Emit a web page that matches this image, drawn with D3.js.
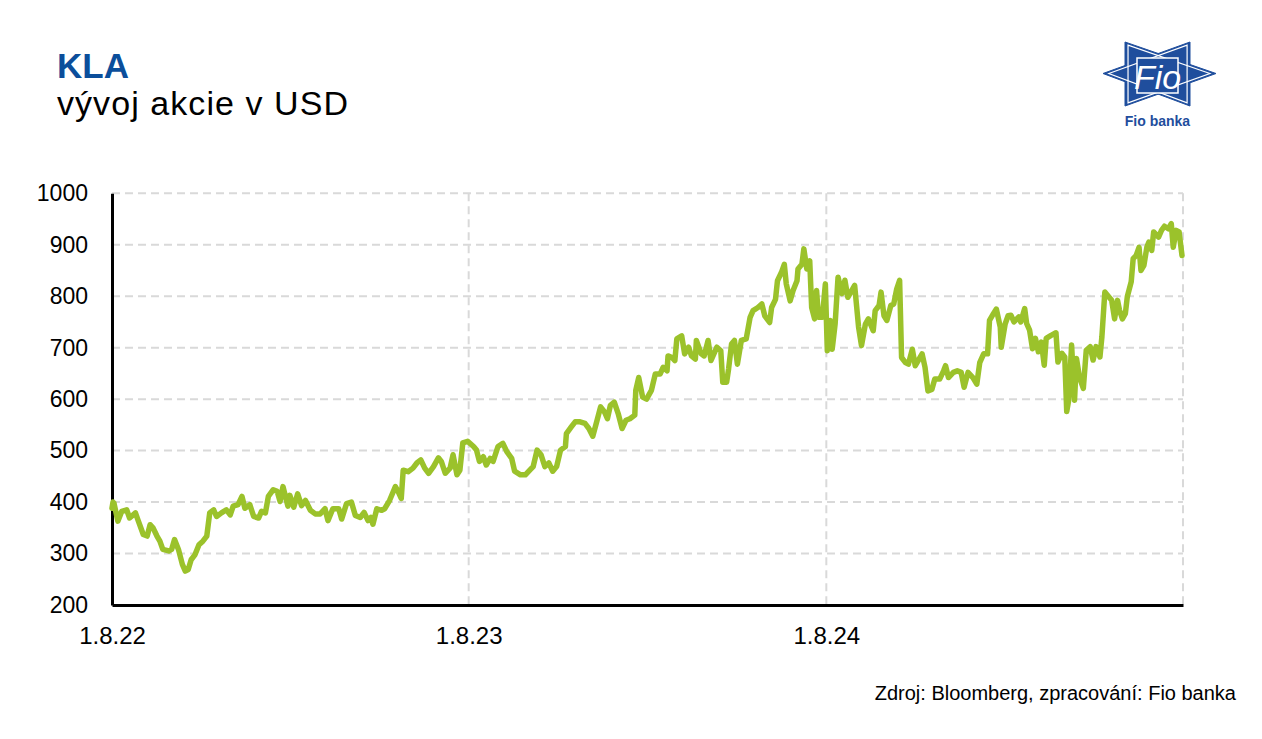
<!DOCTYPE html>
<html><head><meta charset="utf-8">
<script src="https://cdn.jsdelivr.net/npm/d3@7"></script>
<style>
body{margin:0;background:#fff}
svg{display:block}
text{font-family:"Liberation Sans",Arial,Helvetica,sans-serif}
</style>
</head><body>
<svg id="chart" width="1262" height="739"></svg>
<script>
// ---- data ----
const startDate = "2022-08-01";
const dayOffsets = [
0,1,2,6,10,15,18,24,27,32,36,39,42,46,49,52,58,61,64,68,72,75,78,81,85,89,93,97,100,104,107,112,117,121,124,129,133,136,141,145,150,153,157,160,165,169,172,175,180,
182,186,190,194,198,203,208,213,218,221,226,232,235,240,245,249,254,258,262,265,267,271,276,279,284,290,293,296,298,303,308,312,316,320,324,329,334,337,341,346,349,353,356,359,364,
370,373,376,380,383,387,390,395,400,404,409,412,418,423,428,431,435,439,443,447,451,455,459,464,465,470,474,479,484,488,492,496,500,504,507,510,514,518,522,526,530,535,536,539,543,547,
552,556,561,564,568,569,573,576,578,583,586,590,593,597,598,603,606,610,613,615,619,623,625,629,631,634,637,640,644,649,653,656,661,665,668,673,675,679,681,685,688,690,694,697,701,702,706,708,711,714,716,719,721,723,727,730,732,
735,737,740,743,747,750,753,757,760,764,767,771,774,779,781,785,787,790,793,797,800,803,806,808,812,815,819,822,825,829,832,835,839,842,847,851,853,856,861,865,869,872,876,881,885,888,892,896,898,902,905,909,910,914,917,
920,923,928,930,934,936,939,942,945,948,951,954,956,961,966,968,972,975,977,979,982,985,987,990,994,997,1001,1004,1007,1011,1013,1016,1020,1023,1026,1029,1031,1034,1037,1039,1043,1045,1048,1051,1053,1056,1059,1061,1064,1066,1071,1074,1077,1081,1084,1086,1089,1092,1095
];
const prices = [
388,400,398,363,382,385,369,379,363,337,334,356,350,334,324,308,305,308,327,308,279,266,269,288,298,317,324,334,379,385,372,379,385,375,392,395,411,388,395,372,369,382,379,411,424,421,401,430,392,
413,390,416,393,403,384,377,377,387,364,387,387,367,397,400,374,370,380,364,370,357,387,384,387,403,430,420,407,462,459,466,476,482,466,456,469,486,479,456,466,492,453,462,515,518,
508,501,479,488,472,485,479,508,514,498,485,460,453,453,463,469,501,492,469,476,460,469,501,508,533,546,556,556,553,543,528,556,585,575,562,588,594,572,543,559,562,569,617,642,604,600,
617,649,649,662,655,684,681,675,717,723,688,701,684,678,714,688,684,714,675,684,701,694,633,633,659,707,714,668,714,717,759,772,778,785,762,749,778,794,830,846,862,824,791,811,830,853,862,892,853,869,778,756,811,759,759,824,694,
753,697,746,837,805,831,798,811,821,740,704,746,756,733,772,782,808,762,753,782,785,814,831,681,671,668,697,665,675,688,662,616,619,639,639,655,665,642,652,655,652,623,652,642,629,671,688,688,753,766,775,740,701,746,762,
763,750,760,750,776,747,734,698,718,692,711,666,718,724,729,672,689,682,576,598,705,598,679,643,621,695,702,676,702,682,721,808,799,792,756,792,773,756,766,799,828,873,879,895,850,860,895,905,889,925,915,928,936,931,941,895,928,925,879
];
const yTicks = [200,300,400,500,600,700,800,900,1000];
const xTickDates = ["2022-08-01","2023-08-01","2024-08-01","2025-08-01"];
const xTickLabels = ["1.8.22","1.8.23","1.8.24",""];
const titleText = "KLA";
const subtitleText = "vývoj akcie v USD";
const sourceText = "Zdroj: Bloomberg, zpracování: Fio banka";

// ---- chart ----
const svg = d3.select("#chart");
const parse = d3.utcParse("%Y-%m-%d");
const t0 = parse(startDate);
const data = dayOffsets.map((d,i)=>({date:d3.utcDay.offset(t0,d), v:prices[i]}));

const x = d3.scaleUtc().domain([parse(xTickDates[0]), parse(xTickDates[3])]).range([112,1183]);
const y = d3.scaleLinear().domain([200,1000]).range([605,193.3]);

const grid = svg.append("g");
grid.selectAll("line.h").data(yTicks.slice(1)).join("line")
  .attr("x1",112).attr("x2",1183)
  .attr("y1",d=>y(d)).attr("y2",d=>y(d))
  .attr("stroke","#d9d9d9").attr("stroke-width",2).attr("stroke-dasharray","8,5");
grid.selectAll("line.v").data(xTickDates.slice(1)).join("line")
  .attr("x1",d=>x(parse(d))).attr("x2",d=>x(parse(d)))
  .attr("y1",y(1000)).attr("y2",y(200))
  .attr("stroke","#d9d9d9").attr("stroke-width",2).attr("stroke-dasharray","8,5");

// y axis
const yAxis = d3.axisLeft(y).tickValues(yTicks).tickSize(0).tickPadding(24).tickFormat(d3.format("d"));
const gy = svg.append("g").attr("transform","translate(112,0)").call(yAxis);
gy.select(".domain").attr("stroke","#000").attr("stroke-width",3);
gy.selectAll("text").attr("font-size",23).attr("fill","#000")
  .attr("font-family","'Liberation Sans',Arial,sans-serif");

// x axis
const xAxis = d3.axisBottom(x).tickValues(xTickDates.map(parse)).tickSize(0).tickPadding(22)
  .tickFormat((d,i)=>xTickLabels[i]);
const gx = svg.append("g").attr("transform","translate(0,605)").call(xAxis);
gx.select(".domain").attr("stroke","#000").attr("stroke-width",3);
gx.selectAll("text").attr("font-size",24).attr("fill","#000")
  .attr("font-family","'Liberation Sans',Arial,sans-serif");

// line
const line = d3.line().x(d=>x(d.date)).y(d=>y(d.v));
svg.append("path").datum(data)
  .attr("d",line).attr("fill","none")
  .attr("stroke","#9bc22b").attr("stroke-width",5.5)
  .attr("stroke-linejoin","round").attr("stroke-linecap","round");

// titles
svg.append("text").attr("x",57).attr("y",78).text(titleText)
  .attr("font-size",35).attr("font-weight","bold").attr("fill","#0b4e9b");
svg.append("text").attr("x",57).attr("y",115).text(subtitleText)
  .attr("font-size",34).attr("fill","#000")
  .attr("textLength",291).attr("lengthAdjust","spacing");

// source
svg.append("text").attr("x",1236).attr("y",700).attr("text-anchor","end")
  .text(sourceText).attr("font-size",20).attr("fill","#000");

// logo
const logo = svg.append("g");
const blue = "#1f4e9d";
const triL = [[1103,73.5],[1190,42],[1190,106]];
const triR = [[1216,73.5],[1125,42],[1125,106]];
[triL,triR].forEach(t=>{
  logo.append("polygon").attr("points",t.map(p=>p.join(",")).join(" "))
    .attr("fill",blue).attr("stroke",blue).attr("stroke-width",1);
});
[triL,triR].forEach(t=>{
  const cx=d3.mean(t,p=>p[0]), cy=d3.mean(t,p=>p[1]);
  const s=0.9;
  logo.append("polygon").attr("points",t.map(p=>[cx+(p[0]-cx)*s, cy+(p[1]-cy)*s].join(",")).join(" "))
    .attr("fill","none").attr("stroke","#fff").attr("stroke-width",1.2);
});
logo.append("rect").attr("x",1137).attr("y",58).attr("width",41).attr("height",35)
  .attr("fill",blue).attr("stroke","#fff").attr("stroke-width",1.5);
logo.append("text").attr("x",1157.5).attr("y",89).attr("text-anchor","middle")
  .text("Fio").attr("font-size",34).attr("fill","#fff")
  .attr("font-family","'Liberation Serif','DejaVu Serif',serif").attr("font-style","italic");
logo.append("text").attr("x",1157.5).attr("y",126).attr("text-anchor","middle")
  .text("Fio banka").attr("font-size",14).attr("font-weight","bold").attr("fill",blue);
</script>
</body></html>
